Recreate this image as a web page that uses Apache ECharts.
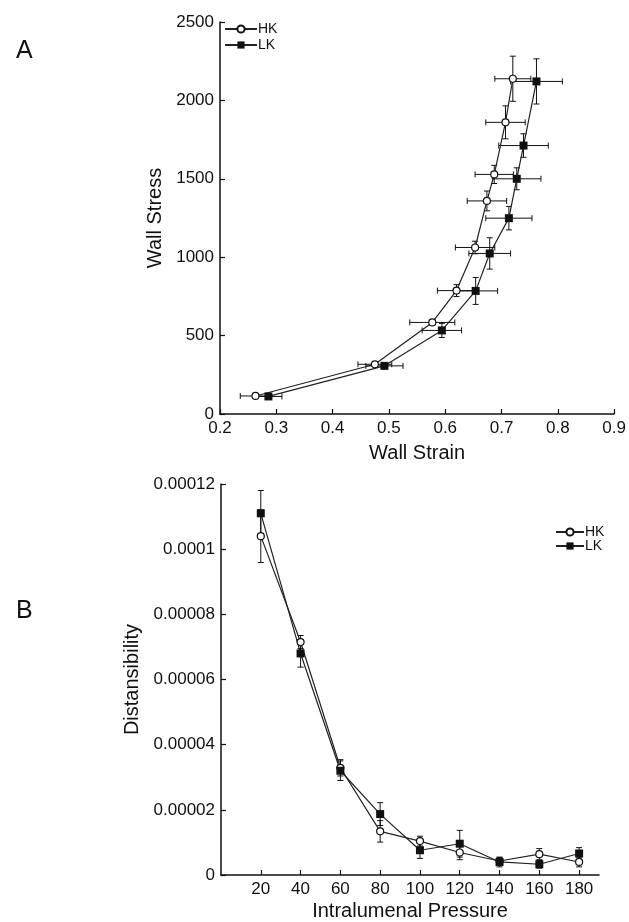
<!DOCTYPE html>
<html>
<head>
<meta charset="utf-8">
<script src="https://cdn.jsdelivr.net/npm/echarts@6/dist/echarts.min.js"></script>
<style>
  html, body { margin: 0; padding: 0; background: #fff; }
  #chart { width: 629px; height: 922px; }
</style>
</head>
<body>
<div id="chart"></div>
<script>
// panel A: wall stress vs wall strain
const strainHK = [0.263, 0.475, 0.577, 0.620, 0.653, 0.674, 0.687, 0.707, 0.720];
const stressHK = [115, 317, 584, 787, 1062, 1359, 1528, 1860, 2138];
const strainErrHK = [0.027, 0.030, 0.040, 0.034, 0.035, 0.035, 0.034, 0.035, 0.032];
const stressErrHK = [8, 12, 15, 38, 40, 63, 58, 105, 144];

const strainLK = [0.286, 0.492, 0.594, 0.654, 0.679, 0.713, 0.727, 0.739, 0.762];
const stressLK = [112, 307, 533, 785, 1024, 1249, 1500, 1712, 2121];
const strainErrLK = [0.024, 0.033, 0.035, 0.039, 0.037, 0.041, 0.043, 0.044, 0.046];
const stressErrLK = [10, 15, 45, 86, 100, 75, 70, 75, 144];

// panel B: distensibility vs intralumenal pressure
const pressure = [20, 40, 60, 80, 100, 120, 140, 160, 180];
const distHK = [0.000104, 0.0000715, 0.0000329, 0.0000134, 0.0000104, 0.0000069, 0.0000043, 0.0000064, 0.0000040];
const distErrHK = [0.0000081, 0.000002, 0.0000025, 0.0000033, 0.0000015, 0.0000022, 0.000001, 0.0000017, 0.0000015];
const distLK = [0.000111, 0.000068, 0.000032, 0.0000187, 0.0000076, 0.0000096, 0.0000040, 0.0000033, 0.0000066];
const distErrLK = [0.000007, 0.0000042, 0.000003, 0.0000035, 0.0000025, 0.0000041, 0.0000015, 0.0000012, 0.0000018];

const pressureTicks = [20, 40, 60, 80, 100, 120, 140, 160, 180];

const FONT = "'Liberation Sans', Arial, sans-serif";
const INK = '#111';

function pairs(xs, ys) {
  return xs.map((x, i) => [x, ys[i]]);
}
function errRows(xs, ys, exs, eys) {
  return xs.map((x, i) => [x, ys[i], exs ? exs[i] : 0, eys[i]]);
}

// error bars with caps, placed through the axes
function renderErr(params, api) {
  const x = api.value(0), y = api.value(1), ex = api.value(2), ey = api.value(3);
  const cap = 3;
  const style = { stroke: INK, lineWidth: 1 };
  const kids = [];
  if (ey > 0) {
    const t = api.coord([x, y + ey]);
    const b = api.coord([x, y - ey]);
    kids.push({ type: 'line', shape: { x1: t[0], y1: t[1], x2: b[0], y2: b[1] }, style });
    kids.push({ type: 'line', shape: { x1: t[0] - cap, y1: t[1], x2: t[0] + cap, y2: t[1] }, style });
    kids.push({ type: 'line', shape: { x1: b[0] - cap, y1: b[1], x2: b[0] + cap, y2: b[1] }, style });
  }
  if (ex > 0) {
    const l = api.coord([x - ex, y]);
    const r = api.coord([x + ex, y]);
    kids.push({ type: 'line', shape: { x1: l[0], y1: l[1], x2: r[0], y2: r[1] }, style });
    kids.push({ type: 'line', shape: { x1: l[0], y1: l[1] - cap, x2: l[0], y2: l[1] + cap }, style });
    kids.push({ type: 'line', shape: { x1: r[0], y1: r[1] - cap, x2: r[0], y2: r[1] + cap }, style });
  }
  return { type: 'group', children: kids };
}

const hkSymbol = {
  symbol: 'circle', symbolSize: 7,
  itemStyle: { color: '#fff', borderColor: INK, borderWidth: 1.2 },
};
const lkSymbol = {
  symbol: 'rect', symbolSize: 8,
  itemStyle: { color: INK, borderColor: INK, borderWidth: 0 },
};
const lineStyle = { color: '#222', width: 1.2 };

const fmtPlain = (v) => String(parseFloat(Number(v).toFixed(6)));

function axisBase() {
  return {
    axisLine: { show: true, onZero: false, lineStyle: { color: INK, width: 1.5 } },
    axisTick: { show: true, inside: true, length: 5, lineStyle: { color: INK, width: 1.2 } },
    splitLine: { show: false },
    axisLabel: { color: INK, fontSize: 17, fontFamily: FONT, margin: 6, formatter: fmtPlain },
    nameTextStyle: { color: INK, fontSize: 20, fontFamily: FONT },
  };
}

const chart = echarts.init(document.getElementById('chart'), null, { renderer: 'canvas' });

chart.setOption({
  animation: false,
  backgroundColor: '#fff',
  title: [
    { text: 'A', left: 11, top: 34, textStyle: { fontSize: 25, fontWeight: 'normal', color: INK, fontFamily: FONT } },
    { text: 'B', left: 11, top: 594, textStyle: { fontSize: 25, fontWeight: 'normal', color: INK, fontFamily: FONT } },
  ],
  legend: [
    {
      data: ['HK', 'LK'], orient: 'vertical', left: 224, top: 22, padding: 0,
      itemWidth: 32, itemHeight: 9, itemGap: 2,
      textStyle: { fontSize: 14, lineHeight: 13, color: INK, fontFamily: FONT, padding: [0, 0, 0, -4] },
    },
    {
      data: ['HK', 'LK'], orient: 'vertical', left: 555, top: 525, padding: 0,
      itemWidth: 28, itemHeight: 9, itemGap: 0,
      textStyle: { fontSize: 14, lineHeight: 12, color: INK, fontFamily: FONT, padding: [0, 0, 0, -4] },
    },
  ],
  grid: [
    { left: 220, top: 22, width: 397, height: 392, containLabel: false },
    { left: 221, top: 484, width: 378, height: 394, containLabel: false },
  ],
  xAxis: [
    Object.assign(axisBase(), {
      type: 'value', gridIndex: 0, min: 0.2, max: 0.9, interval: 0.1,
      name: 'Wall Strain', nameLocation: 'middle', nameGap: 29,
    }),
    Object.assign(axisBase(), {
      type: 'value', gridIndex: 1, min: 0, max: 190,
      name: 'Intralumenal Pressure', nameLocation: 'middle', nameGap: 26,
    }),
  ],
  yAxis: [
    Object.assign(axisBase(), {
      type: 'value', gridIndex: 0, min: 0, max: 2500, interval: 500,
      name: 'Wall Stress', nameLocation: 'middle', nameGap: 49,
    }),
    Object.assign(axisBase(), {
      type: 'value', gridIndex: 1, min: 0, max: 0.00012, interval: 0.00002,
      name: 'Distansibility', nameLocation: 'middle', nameGap: 76,
    }),
  ],
  series: [
    {
      type: 'custom', name: 'errA-HK', xAxisIndex: 0, yAxisIndex: 0, z: 1,
      renderItem: renderErr, encode: { x: 0, y: 1 },
      data: errRows(strainHK, stressHK, strainErrHK, stressErrHK),
    },
    {
      type: 'custom', name: 'errA-LK', xAxisIndex: 0, yAxisIndex: 0, z: 1,
      renderItem: renderErr, encode: { x: 0, y: 1 },
      data: errRows(strainLK, stressLK, strainErrLK, stressErrLK),
    },
    Object.assign({
      type: 'line', name: 'HK', xAxisIndex: 0, yAxisIndex: 0, z: 3,
      data: pairs(strainHK, stressHK), lineStyle,
    }, hkSymbol),
    Object.assign({
      type: 'line', name: 'LK', xAxisIndex: 0, yAxisIndex: 0, z: 3,
      data: pairs(strainLK, stressLK), lineStyle,
    }, lkSymbol),
    {
      type: 'custom', name: 'errB-HK', xAxisIndex: 1, yAxisIndex: 1, z: 1,
      renderItem: renderErr, encode: { x: 0, y: 1 },
      data: errRows(pressure, distHK, null, distErrHK),
    },
    {
      type: 'custom', name: 'errB-LK', xAxisIndex: 1, yAxisIndex: 1, z: 1,
      renderItem: renderErr, encode: { x: 0, y: 1 },
      data: errRows(pressure, distLK, null, distErrLK),
    },
    Object.assign({
      type: 'line', name: 'HK', xAxisIndex: 1, yAxisIndex: 1, z: 3,
      data: pairs(pressure, distHK), lineStyle,
    }, hkSymbol),
    Object.assign({
      type: 'line', name: 'LK', xAxisIndex: 1, yAxisIndex: 1, z: 3,
      data: pairs(pressure, distLK), lineStyle,
    }, lkSymbol),
  ],
});

// panel B ticks only at the pressures, not at the axis ends
chart.setOption({
  xAxis: [
    {},
    {
      axisTick: { customValues: pressureTicks },
      axisLabel: { customValues: pressureTicks },
    },
  ],
});
</script>
</body>
</html>
